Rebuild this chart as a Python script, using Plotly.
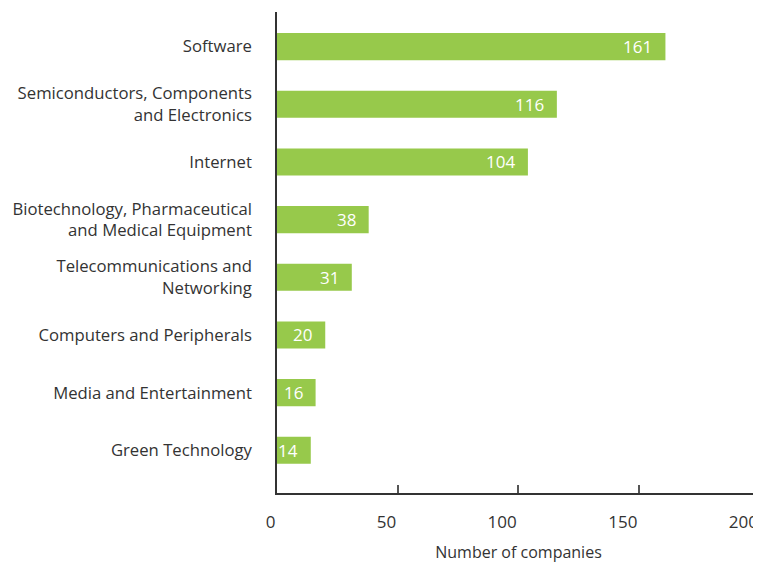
import plotly.graph_objects as go

categories = [
    "Software",
    "Semiconductors, Components<br>and Electronics",
    "Internet",
    "Biotechnology, Pharmaceutical<br>and Medical Equipment",
    "Telecommunications and<br>Networking",
    "Computers and Peripherals",
    "Media and Entertainment",
    "Green Technology",
]
values = [161, 116, 104, 38, 31, 20, 16, 14]
x_ticks = [0, 50, 100, 150, 200]
x_title = "Number of companies"

BAR = "#97C94B"
TXT = "#333333"
FONT = "Open Sans"

fig = go.Figure()
fig.add_trace(go.Bar(
    y=categories, x=values, orientation="h",
    marker=dict(color=BAR, line=dict(width=0)),
    width=0.47, hoverinfo="skip",
))

for c, v in zip(categories, values):
    fig.add_annotation(x=v, y=c, text=str(v), showarrow=False,
                       xanchor="right", xshift=-11,
                       font=dict(family=FONT, size=17, color="white"))

# the page body adds an 8px offset; the figure is sized to fill the rest of the window
fig.update_layout(
    width=753, height=555,
    margin=dict(l=269, r=1, t=4, b=70),
    paper_bgcolor="white", plot_bgcolor="white",
    font=dict(family=FONT, size=17, color=TXT),
    showlegend=False,
    xaxis=dict(
        range=[0, 200.2], tickvals=x_ticks, ticktext=[str(t) for t in x_ticks],
        showgrid=False, zeroline=False, automargin=False,
        showline=True, linecolor="#333333", linewidth=1.5,
        ticks="inside", ticklen=8, tickcolor="#555555", tickwidth=1.5,
        ticklabelposition="outside left",
        ticklabelstandoff=13, ticklabelshift=0, ticklabeloverflow="allow",
        tickfont=dict(family=FONT, size=17, color=TXT),
        title=dict(text=x_title, standoff=21, font=dict(family=FONT, size=16, color=TXT)),
        fixedrange=True,
    ),
    yaxis=dict(
        categoryorder="array", categoryarray=categories,
        range=[7.74, -0.6], automargin=False,
        showgrid=False, zeroline=False,
        showline=True, linecolor="#333333", linewidth=1.5,
        ticks="", ticklabelstandoff=20,
        tickfont=dict(family=FONT, size=16.7, color=TXT),
        fixedrange=True,
    ),
)

fig.write_html("out.html")
